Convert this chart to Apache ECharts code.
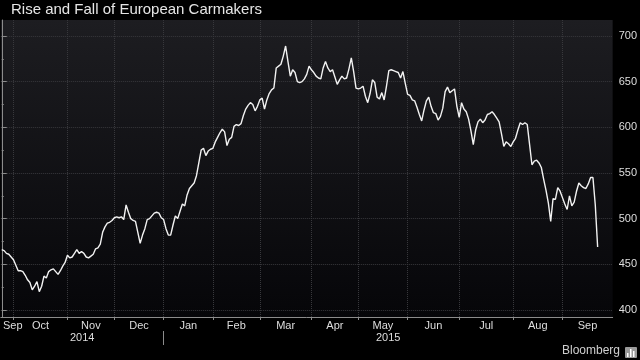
<!DOCTYPE html>
<html><head><meta charset="utf-8">
<script src="https://cdn.jsdelivr.net/npm/echarts@6/dist/echarts.min.js"></script>
<style>html,body{margin:0;padding:0;background:#000;}#c{width:640px;height:360px;}</style>
</head><body><div id="c"></div>
<script>
const chartTitle = 'Rise and Fall of European Carmakers';
const monthNames = ['Sep','Oct','Nov','Dec','Jan','Feb','Mar','Apr','May','Jun','Jul','Aug','Sep'];
const monthTradingDays = [5,23,20,21,21,20,22,20,21,22,23,21,16];
const yearLabels = ['2014','2015'];
const yearStartMonth = [0,4];
const yTickLabels = [400,450,500,550,600,650,700];
const yMinorTicks = [425,475,525,575,625,675];
const indexValues = [
466,465,462,461,458,455,449,443,443,442,
438,433,430,422,426,431,420,426,437,435,
442,444,445,442,439,443,448,452,460,457,
458,462,466,462,464,462,458,457,459,461,
467,468,472,485,491,495,496,498,501,502,
501,502,499,515,507,500,498,497,485,473,
482,489,499,500,503,506,507,506,501,499,
489,482,482,493,503,500,508,516,514,526,
533,536,539,547,561,575,577,569,574,576,
577,584,589,594,598,595,580,587,589,601,
603,602,604,613,620,624,627,625,618,623,
630,632,620,630,637,641,643,665,667,669,
678,689,672,656,663,660,650,649,650,653,
658,667,663,660,656,654,653,665,672,665,
661,663,655,647,652,656,653,654,664,676,
661,643,642,643,645,634,627,637,652,649,
633,631,638,630,645,662,663,662,661,660,
654,661,648,636,635,630,629,622,614,607,
619,629,633,623,616,615,608,612,621,639,
644,638,640,642,623,611,627,620,617,609,
596,581,597,606,609,605,608,614,615,617,
614,610,606,593,579,584,582,579,584,588,
597,605,603,605,603,581,559,563,564,561,
556,543,531,517,497,522,521,534,530,523,
516,510,525,514,518,530,539,536,534,533,
538,545,545,515,469
];

const X_MIN = -0.4, X_MAX = 260.4;
const Y_MIN = 392.3, Y_MAX = 717.5;

const monthStart = [];
let acc = 0;
monthTradingDays.forEach(d => { monthStart.push(acc); acc += d; });
const monthBounds = monthStart.slice(1);
const monthMid = monthStart.map((s, k) => {
  const a = k === 0 ? X_MIN : s;
  const b = k + 1 < monthStart.length ? monthStart[k + 1] : X_MAX;
  let m = (a + b) / 2;
  if (k === 0) m = Math.max(m, 4.7);
  return m;
});
const yearBounds = yearStartMonth.slice(1).map(m => monthStart[m]);
const yearEdges = [X_MIN].concat(yearBounds, [X_MAX]);
const yearMid = yearLabels.map((_, k) => (yearEdges[k] + yearEdges[k + 1]) / 2);

const font = 'Liberation Sans, Arial, sans-serif';
const chart = echarts.init(document.getElementById('c'), null, {renderer: 'canvas'});
chart.setOption({
  backgroundColor: '#000',
  animation: false,
  title: {
    text: chartTitle, left: 11, top: 2, padding: 0,
    textStyle: {color: '#e6e6e6', fontSize: 15, fontWeight: 'normal', fontFamily: font}
  },
  grid: {
    left: 0, right: 27, top: 20, bottom: 43, show: true, borderWidth: 0,
    backgroundColor: new echarts.graphic.LinearGradient(0, 0, 0, 1, [
      {offset: 0, color: '#1d1d21'}, {offset: 1, color: '#060609'}
    ])
  },
  xAxis: [{
    type: 'value', min: X_MIN, max: X_MAX, position: 'bottom',
    axisLine: {show: true, lineStyle: {color: '#8c8c8c', width: 1}},
    axisTick: {show: true, customValues: monthBounds, length: 3, lineStyle: {color: '#8c8c8c'}},
    splitLine: {show: true, lineStyle: {color: '#38383c', type: 'dotted', width: 1}},
    axisLabel: {
      customValues: monthMid, margin: 3, color: '#dedede', fontSize: 11, fontFamily: font,
      formatter: v => { const k = monthMid.findIndex(m => Math.abs(m - v) < 0.01); return k >= 0 ? monthNames[k] : ''; }
    }
  }, {
    type: 'value', min: X_MIN, max: X_MAX, position: 'bottom', offset: 14,
    axisLine: {show: false},
    axisTick: {show: true, customValues: yearBounds, length: 14, lineStyle: {color: '#8c8c8c'}},
    splitLine: {show: false},
    axisLabel: {
      customValues: yearMid, margin: 1, color: '#dedede', fontSize: 11, fontFamily: font,
      formatter: v => { const k = yearMid.findIndex(m => Math.abs(m - v) < 0.01); return k >= 0 ? yearLabels[k] : ''; }
    }
  }],
  yAxis: [{
    type: 'value', min: Y_MIN, max: Y_MAX, position: 'right',
    axisLine: {show: true, lineStyle: {color: '#8c8c8c', width: 1}},
    axisTick: {show: true, customValues: yTickLabels, length: 5, lineStyle: {color: '#8c8c8c'}},
    splitLine: {show: true, lineStyle: {color: '#38383c', type: 'dotted', width: 1}},
    axisLabel: {customValues: yTickLabels, margin: 6, color: '#dedede', fontSize: 11, fontFamily: font}
  }, {
    type: 'value', min: Y_MIN, max: Y_MAX, position: 'right',
    axisLine: {show: false},
    axisTick: {show: true, customValues: yMinorTicks, length: 2, lineStyle: {color: '#8c8c8c'}},
    splitLine: {show: false},
    axisLabel: {show: false}
  }],
  series: [{
    type: 'line', xAxisIndex: 0, yAxisIndex: 0,
    data: indexValues.map((v, i) => [i, v]),
    showSymbol: false, symbol: 'none',
    lineStyle: {color: '#f2f2f2', width: 1.4}
  }],
  graphic: [
    {type: 'text', right: 20, top: 345,
     style: {text: 'Bloomberg', fill: '#d0d0d0', font: '12px ' + font}},
    {type: 'group', right: 3, top: 347, children: [
      {type: 'rect', shape: {x: 0, y: 0, width: 12, height: 11, r: 1}, style: {fill: '#9a9a9a'}},
      {type: 'rect', shape: {x: 2, y: 6, width: 1.5, height: 4}, style: {fill: '#fff'}},
      {type: 'rect', shape: {x: 5, y: 2, width: 1.5, height: 8}, style: {fill: '#fff'}},
      {type: 'rect', shape: {x: 8, y: 4, width: 1.5, height: 6}, style: {fill: '#fff'}}
    ]}
  ]
});
</script></body></html>
